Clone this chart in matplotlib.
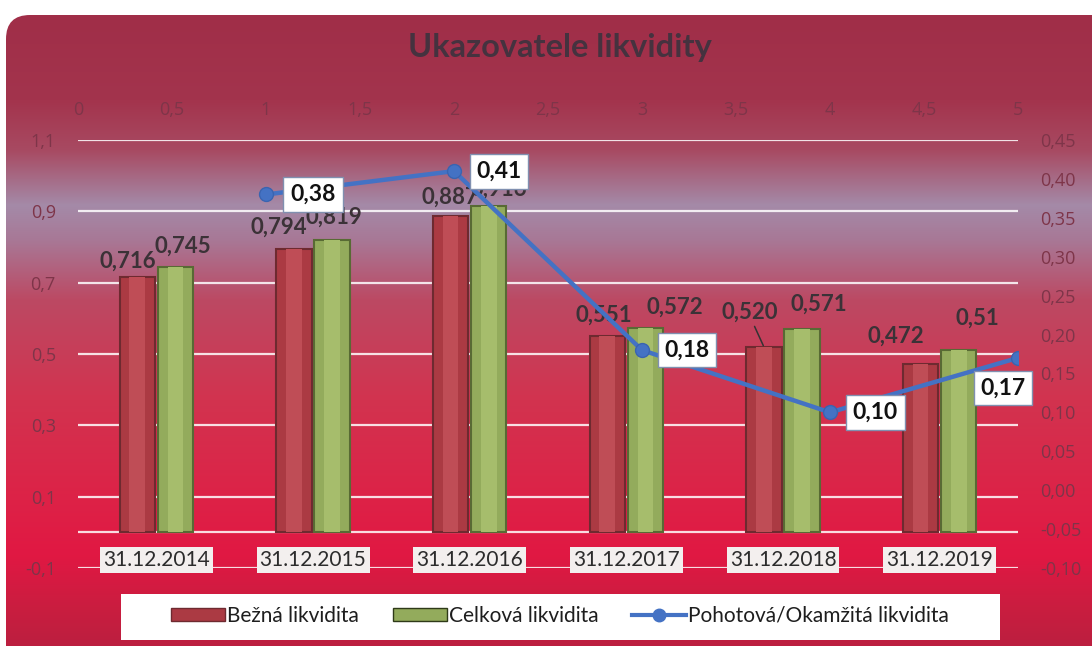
import matplotlib
matplotlib.use("Agg")
import matplotlib.pyplot as plt
import numpy as np
from matplotlib.patches import FancyBboxPatch, Rectangle, Patch
from matplotlib.lines import Line2D
from matplotlib.ticker import FuncFormatter, MultipleLocator
from matplotlib.colors import to_rgb

plt.rcParams['font.family'] = ['Lato', 'DejaVu Sans']

# data
years = ["31.12.2014", "31.12.2015", "31.12.2016", "31.12.2017", "31.12.2018", "31.12.2019"]
bezna = [0.716, 0.794, 0.887, 0.551, 0.520, 0.472]
celkova = [0.745, 0.819, 0.916, 0.572, 0.571, 0.51]
bezna_text = ["0,716", "0,794", "0,887", "0,551", "0,520", "0,472"]
celkova_text = ["0,745", "0,819", "0,916", "0,572", "0,571", "0,51"]
pohotova_x = [1, 2, 3, 4, 5]
pohotova = [0.38, 0.41, 0.18, 0.10, 0.17]
pohotova_text = ["0,38", "0,41", "0,18", "0,10", "0,17"]

# label offsets in pixels (dx, dy) from the bar top / point
bezna_off = [(-9, 16), (-15, 22), (-1, 19), (-3, 21), (-14, 35), (-25, 28)]
celkova_off = [(7, 20), (2, 23), (10, 16), (29, 21), (17, 24), (19, 32)]
pohotova_off = [(47, 0), (45, 0), (45, 0), (45, 0), (-15, -30)]

W, H = 1092, 646
fig = plt.figure(figsize=(W / 100, H / 100), dpi=100)
fig.patch.set_facecolor('white')

# background with vertical gradient, rounded box
bg = fig.add_axes([0, 0, 1, 1], zorder=-10)
bg.set_xlim(0, W)
bg.set_ylim(H, 0)
bg.axis('off')
stops = [(15, '#a02e48'), (100, '#a3344d'), (150, '#a84a62'), (205, '#a48aa8'),
         (240, '#a87896'), (300, '#bc4963'), (400, '#d2334f'), (500, '#dd2247'),
         (555, '#e11843'), (605, '#cb1d40'), (660, '#b6203f')]
ys = np.arange(15, 661)
cols = np.array([to_rgb(c) for _, c in stops])
grad = np.stack([np.interp(ys, [s for s, _ in stops], cols[:, k]) for k in range(3)], axis=-1)
grad = np.repeat(grad[:, None, :], 2, axis=1)
box = FancyBboxPatch((6, 15), 1120, 680, boxstyle="round,pad=0,rounding_size=24",
                     facecolor='none', edgecolor='none')
bg.add_patch(box)
im = bg.imshow(grad, extent=(6, 1130, 660, 15), aspect='auto', interpolation='bilinear')
im.set_clip_path(box)
bg.add_patch(Rectangle((121, 594), 879, 46, facecolor='white', edgecolor='none'))
bg.text(560, 48, "Ukazovatele likvidity", ha='center', va='center', fontsize=23.5,
        fontweight='bold', color='#45323f')

tick_font = dict(family=['Open Sans', 'DejaVu Sans'], size=13)

# main axes
pos = [78 / W, (H - 568) / H, 940 / W, 428 / H]
ax = fig.add_axes(pos)
ax.patch.set_alpha(0)
for s in ax.spines.values():
    s.set_visible(False)
ax.set_xlim(-0.5, 5.5)
ax.set_ylim(-0.1, 1.1)
ax.set_yticks([-0.1, 0.1, 0.3, 0.5, 0.7, 0.9, 1.1])
ax.yaxis.set_major_formatter(FuncFormatter(lambda v, p: f"{v:.1f}".replace('.', ',')))
ax.set_xticks([])
ax.tick_params(axis='y', length=0, pad=16, labelcolor='#7e3549')
for t in ax.get_yticklabels():
    t.set_fontproperties(tick_font)
ax.grid(axis='y', color='white', alpha=0.85, lw=1.6)
ax.axhline(0, color='white', alpha=0.85, lw=1.6)
ax.set_axisbelow(True)

x = np.arange(len(years))
off, bw = 0.122, 0.225
ax.bar(x - off, bezna, bw, color='#ab3a43', edgecolor='#6e2a30', lw=1.5, zorder=2)
ax.bar(x - off, bezna, bw * 0.45, color='#bf4d56', lw=0, zorder=2.1)
ax.bar(x + off, celkova, bw, color='#93ab5c', edgecolor='#586a34', lw=1.5, zorder=2)
ax.bar(x + off, celkova, bw * 0.45, color='#a6bd6c', lw=0, zorder=2.1)

for i in range(len(years)):
    dx, dy = bezna_off[i]
    arrow = None
    if dy > 30:
        arrow = dict(arrowstyle='-', color='#333333', lw=1.1, shrinkA=1, shrinkB=1, relpos=(0.55, 0))
    ax.annotate(bezna_text[i], (x[i] - off, bezna[i]), xytext=(dx, dy),
                textcoords='offset pixels', ha='center', va='center', fontsize=16,
                fontweight='bold', color='#3b3237', zorder=3, arrowprops=arrow)
    dx, dy = celkova_off[i]
    ax.annotate(celkova_text[i], (x[i] + off, celkova[i]), xytext=(dx, dy),
                textcoords='offset pixels', ha='center', va='center', fontsize=16,
                fontweight='bold', color='#3b3237', zorder=3)
    ax.text(x[i], -0.078, years[i], ha='center', va='center', fontsize=15, color='#2c2c2c',
            zorder=3, bbox=dict(boxstyle='square,pad=0.15', facecolor='#f3efee', edgecolor='none'))

# secondary axes for the line (top x, right y)
ax2 = fig.add_axes(pos, zorder=5)
ax2.patch.set_alpha(0)
for s in ax2.spines.values():
    s.set_visible(False)
ax2.set_xlim(0, 5)
ax2.set_ylim(-0.1, 0.45)
ax2.xaxis.tick_top()
ax2.yaxis.tick_right()
ax2.xaxis.set_major_locator(MultipleLocator(0.5))
ax2.yaxis.set_major_locator(MultipleLocator(0.05))
ax2.xaxis.set_major_formatter(FuncFormatter(lambda v, p: f"{v:g}".replace('.', ',')))
ax2.yaxis.set_major_formatter(FuncFormatter(lambda v, p: f"{v:.2f}".replace('.', ',').replace('-0,00', '0,00')))
ax2.tick_params(length=0, labelcolor='#7e3549')
ax2.tick_params(axis='x', pad=15)
ax2.tick_params(axis='y', pad=16)
for t in ax2.get_xticklabels() + ax2.get_yticklabels():
    t.set_fontproperties(tick_font)

ax2.plot(pohotova_x, pohotova, color='#4472c4', lw=3.2, marker='o', markersize=10,
         markerfacecolor='#4472c4', markeredgecolor='#3a64b0', zorder=4)
for i in range(len(pohotova)):
    ax2.annotate(pohotova_text[i], (pohotova_x[i], pohotova[i]), xytext=pohotova_off[i],
                 textcoords='offset pixels', ha='center', va='center', fontsize=16.5,
                 fontweight='bold', color='#111111', zorder=6,
                 bbox=dict(boxstyle='square,pad=0.3', facecolor='white', edgecolor='#8090b0', lw=1))

handles = [Patch(facecolor='#ab3a43', edgecolor='#6e2a30'),
           Patch(facecolor='#93ab5c', edgecolor='#2e3a18'),
           Line2D([], [], color='#4472c4', lw=3, marker='o', markersize=9)]
fig.legend(handles, ["Bežná likvidita", "Celková likvidita", "Pohotová/Okamžitá likvidita"],
           loc='center', bbox_to_anchor=(560 / W, 1 - 616 / H), ncol=3, frameon=False,
           fontsize=15, handlelength=2.6, handleheight=0.6, handletextpad=0.1,
           columnspacing=1.6, labelcolor='#1e1e1e')

fig.savefig("out.png", dpi=100, facecolor='white')
